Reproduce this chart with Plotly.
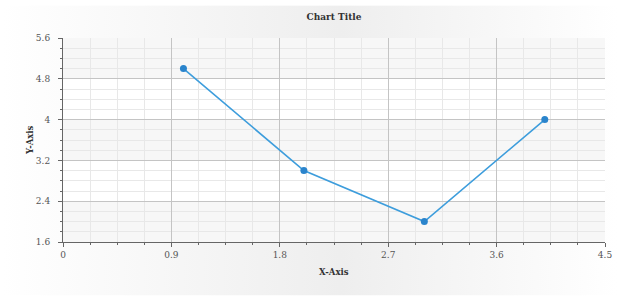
import base64
import plotly.graph_objects as go

# Data
x_values = [1, 2, 3, 4]
y_values = [5, 3, 2, 4]
x_ticks = [0, 0.9, 1.8, 2.7, 3.6, 4.5]
x_tick_labels = ["0", "0.9", "1.8", "2.7", "3.6", "4.5"]
y_ticks = [1.6, 2.4, 3.2, 4.0, 4.8, 5.6]
y_tick_labels = ["1.6", "2.4", "3.2", "4", "4.8", "5.6"]
chart_title = "Chart Title"
x_title = "X-Axis"
y_title = "Y-Axis"

W, H = 620, 300
L, R, T, B = 63, 14.5, 37.5, 57.5
pw = W - L - R
ph = H - T - B

svg = f'''<svg xmlns="http://www.w3.org/2000/svg" width="{W}" height="{H}" viewBox="0 0 {W} {H}" preserveAspectRatio="none">
<defs>
<linearGradient id="g" x1="0" y1="0" x2="1" y2="0">
<stop offset="0" stop-color="#ffffff"/>
<stop offset="0.55" stop-color="#eeeeee"/>
<stop offset="1" stop-color="#ffffff"/>
</linearGradient>
</defs>
<rect x="0" y="0" width="{W}" height="{H}" fill="#ffffff"/>
<rect x="2" y="5" width="{W-4}" height="{H-9}" fill="url(#g)"/>
</svg>'''
bg_src = "data:image/svg+xml;base64," + base64.b64encode(svg.encode()).decode()

fig = go.Figure()
fig.add_trace(go.Scatter(
    x=x_values, y=y_values, mode="lines+markers",
    line=dict(color="#3d9ddc", width=1.6),
    marker=dict(color="#2a84cc", size=7),
    showlegend=False, cliponaxis=False,
))

shapes = []
for i in range(len(y_ticks) - 1):
    shapes.append(dict(type="rect", xref="paper", yref="y",
                       x0=0, x1=1, y0=y_ticks[i], y1=y_ticks[i + 1],
                       fillcolor="#f7f7f7" if i % 2 == 0 else "#ffffff",
                       line=dict(width=0), layer="below"))

font_family = "DejaVu Serif"
annotations = [
    dict(text=f"<b>{x_title}</b>", xref="paper", yref="paper",
         x=0.5, y=-(272.5 - (H - B)) / ph, xanchor="center", yanchor="middle",
         showarrow=False, font=dict(family=font_family, size=8.5, color="#333")),
    dict(text=f"<b>{y_title}</b>", xref="paper", yref="paper",
         x=-(L - 30) / pw, y=0.5, xanchor="center", yanchor="middle", textangle=-90,
         showarrow=False, font=dict(family=font_family, size=8.5, color="#333")),
]

fig.update_layout(
    width=W, height=H,
    margin=dict(l=L, r=R, t=T, b=B),
    paper_bgcolor="rgba(0,0,0,0)",
    plot_bgcolor="rgba(0,0,0,0)",
    images=[dict(source=bg_src, xref="paper", yref="paper",
                 x=-L / pw, y=1 + T / ph, sizex=W / pw, sizey=H / ph,
                 sizing="stretch", xanchor="left", yanchor="top", layer="below")],
    shapes=shapes,
    annotations=annotations,
    title=dict(text=f"<b>{chart_title}</b>", xref="paper", x=0.5, xanchor="center",
               yref="container", y=1 - 17 / H, yanchor="middle",
               font=dict(family=font_family, size=9, color="#333")),
    xaxis=dict(
        range=[0, 4.5], tickvals=x_ticks, ticktext=x_tick_labels,
        automargin=False,
        showline=True, linecolor="#666", linewidth=1,
        ticks="outside", ticklen=4, tickcolor="#666",
        showgrid=True, gridcolor="#c4c4c4", gridwidth=1,
        zeroline=False,
        tickfont=dict(family=font_family, size=9, color="#555"),
        minor=dict(dtick=0.225, tick0=0, showgrid=True, gridcolor="#e8e8e8",
                   ticks="outside", ticklen=2, tickcolor="#666"),
    ),
    yaxis=dict(
        range=[1.6, 5.6], tickvals=y_ticks, ticktext=y_tick_labels,
        automargin=False,
        showline=True, linecolor="#666", linewidth=1,
        ticks="outside", ticklen=4, tickcolor="#666",
        showgrid=True, gridcolor="#c4c4c4", gridwidth=1,
        zeroline=False, ticklabelstandoff=6,
        tickfont=dict(family=font_family, size=9, color="#555"),
        minor=dict(dtick=0.2, tick0=1.6, showgrid=True, gridcolor="#e8e8e8",
                   ticks="outside", ticklen=2, tickcolor="#666"),
    ),
)

fig.write_html("out.html")
